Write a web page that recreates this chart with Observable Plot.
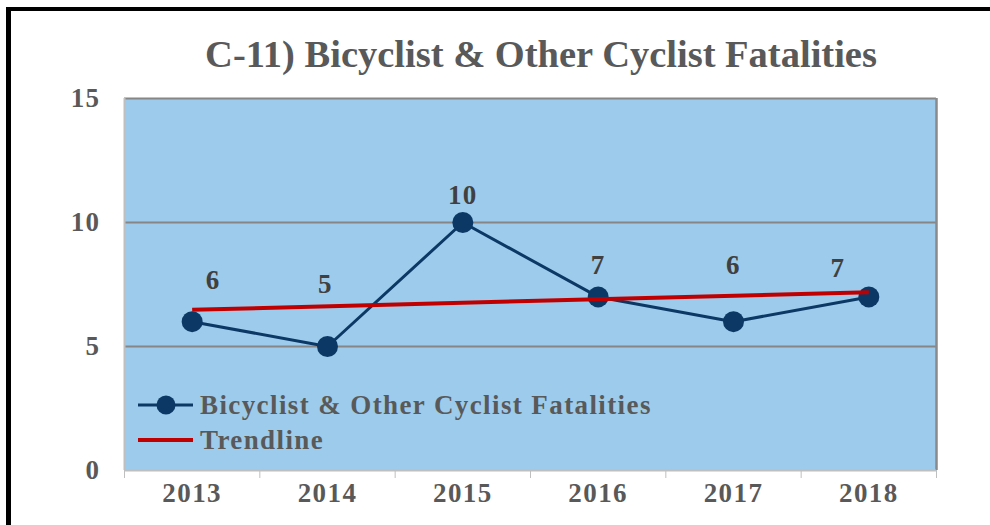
<!DOCTYPE html>
<html><head><meta charset="utf-8">
<script src="https://cdn.jsdelivr.net/npm/d3@7"></script>
<script src="https://cdn.jsdelivr.net/npm/@observablehq/plot@0.6"></script>
<style>
body{margin:0;background:#fff;}
#wrap{position:relative;width:990px;height:525px;overflow:hidden;font-family:"Liberation Serif","Times New Roman",serif;}
#border{position:absolute;left:6px;top:7px;width:1000px;height:600px;border-left:5px solid #000;border-top:4px solid #000;box-sizing:border-box;}
#title{position:absolute;left:0;width:1082px;top:35px;text-align:center;font-size:38.5px;line-height:1;font-weight:bold;color:#595959;white-space:nowrap;}
#chart{position:absolute;left:0;top:0;}
#legend{position:absolute;left:0;top:0;pointer-events:none;}
</style></head>
<body>
<div id="wrap">
  <div id="border"></div>
  <div id="chart"></div>
  <div id="title">C-11) Bicyclist &amp; Other Cyclist Fatalities</div>
  <svg id="legend" width="990" height="525" style="font-family:'Liberation Serif','Times New Roman',serif;letter-spacing:1.4px">
    <line x1="138" x2="193" y1="405" y2="405" stroke="#0c3866" stroke-width="3"></line>
    <circle cx="166" cy="405" r="9.5" fill="#0c3866"></circle>
    <text x="200" y="414" font-size="27" font-weight="bold" fill="#595959">Bicyclist &amp; Other Cyclist Fatalities</text>
    <line x1="138" x2="193" y1="440" y2="440" stroke="#c00000" stroke-width="4"></line>
    <text x="200" y="449" font-size="27" font-weight="bold" fill="#595959">Trendline</text>
  </svg>
</div>
<script>
const years = [2013, 2014, 2015, 2016, 2017, 2018];
const fatalities = [6, 5, 10, 7, 6, 7];
const yTicks = [0, 5, 10, 15];
const trendYears = [2013, 2018];
const trendValues = [6.48, 7.19];

// label offsets (style only, pixels)
const labelDx = [21, -2, 0, 0, 0, -31];
const labelDy = [-41, -62, -27, -32, -56, -29];

const data = years.map((year, i) => ({year, value: fatalities[i]}));
const trend = trendYears.map((year, i) => ({year, value: trendValues[i]}));
const bounds = [...years.map(y => y - 0.5), years[years.length - 1] + 0.5];

const font = {fontWeight: "bold", fontSize: 27, fontFamily: "Liberation Serif, Times New Roman, serif"};

const chart = Plot.plot({
  width: 990, height: 525,
  marginLeft: 124, marginRight: 54, marginTop: 98, marginBottom: 55,
  style: {background: "transparent", color: "#bfbfbf", letterSpacing: "1.4px", overflow: "visible"},
  x: {type: "linear", domain: [bounds[0], bounds[bounds.length - 1]], ticks: bounds, tickSize: 8, tickFormat: () => "", label: null},
  y: {domain: [0, 15], axis: null},
  marks: [
    Plot.frame({fill: "#9dcbeb", stroke: null}),
    Plot.ruleY(yTicks.filter(v => v > 0), {stroke: "#868686", strokeWidth: 2}),
    Plot.ruleX([bounds[0]], {stroke: "#bfbfbf", strokeWidth: 2}),
    Plot.ruleX([bounds[bounds.length - 1]], {stroke: "#8a8a8a", strokeWidth: 2.5}),
    Plot.ruleY([0], {stroke: "#bfbfbf", strokeWidth: 2}),
    Plot.line(data, {x: "year", y: "value", stroke: "#0c3866", strokeWidth: 3}),
    Plot.dot(data, {x: "year", y: "value", r: 10.5, fill: "#0c3866"}),
    Plot.line(trend, {x: "year", y: "value", stroke: "#c00000", strokeWidth: 4, strokeLinecap: "butt"}),
    ...data.map((d, i) => Plot.text([d], {x: "year", y: "value", text: d => String(d.value), dx: labelDx[i], dy: labelDy[i], fill: "#404040", ...font})),
    Plot.text(yTicks, {y: d => d, text: d => String(d), frameAnchor: "left", dx: -24, textAnchor: "end", fill: "#595959", ...font}),
    Plot.text(years, {x: d => d, text: d => String(d), frameAnchor: "bottom", dy: 31, fill: "#595959", ...font})
  ]
});
document.getElementById("chart").appendChild(chart);
</script>
</body></html>
